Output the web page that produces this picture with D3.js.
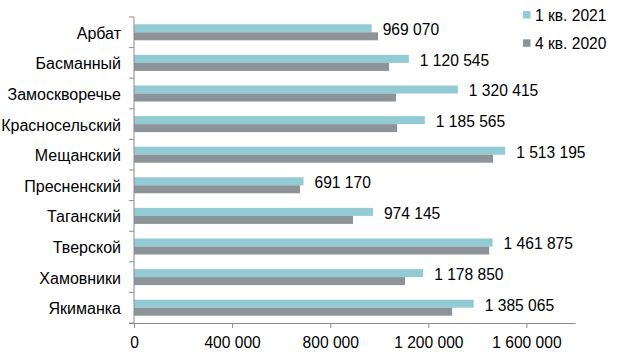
<!DOCTYPE html>
<html>
<head>
<meta charset="utf-8">
<script src="https://cdn.jsdelivr.net/npm/d3@7"></script>
<style>
  body { margin: 0; background: #fff; }
  svg { font-family: 'Liberation Sans', Arial, sans-serif; }
</style>
</head>
<body>
<div id="chart"></div>
<script>
/* Data */
const districts = ['Арбат', 'Басманный', 'Замоскворечье', 'Красносельский', 'Мещанский',
  'Пресненский', 'Таганский', 'Тверской', 'Хамовники', 'Якиманка'];
const seriesNames = ['1 кв. 2021', '4 кв. 2020'];
const q1_2021 = [969070, 1120545, 1320415, 1185565, 1513195, 691170, 974145, 1461875, 1178850, 1385065];
const q4_2020 = [995000, 1040000, 1068000, 1073000, 1464000, 677000, 893000, 1448000, 1105000, 1297000];
const xTicks = [0, 400000, 800000, 1200000, 1600000];

const COLORS = ['#92cbd3', '#8c9399'];
const AXIS_COLOR = '#8c8c8c';
const FONT_SIZE = 15.6;

const width = 622;
const height = 357;
const plot = { left: 134, right: 575.5, top: 17, bottom: 323 };

const svg = d3.select('#chart')
  .append('svg')
  .attr('width', width)
  .attr('height', height);

const x = d3.scaleLinear()
  .domain([0, 1800000])
  .range([plot.left, plot.right]);

const y = d3.scaleBand()
  .domain(districts)
  .range([plot.top, plot.bottom]);

const ySub = d3.scaleBand()
  .domain(seriesNames)
  .range([0, y.bandwidth()])
  .paddingInner(0)
  .paddingOuter(0.91);

const fmt = v => d3.format(',')(v).replace(/,/g, ' ');

const rows = districts.map((name, i) => ({ name, values: [q1_2021[i], q4_2020[i]] }));

// bars
const groups = svg.append('g')
  .selectAll('g')
  .data(rows)
  .join('g')
  .attr('transform', d => `translate(0,${y(d.name)})`);

groups.selectAll('rect')
  .data(d => d.values.map((v, j) => ({ key: seriesNames[j], v, j })))
  .join('rect')
  .attr('x', x(0))
  .attr('y', d => ySub(d.key))
  .attr('width', d => x(d.v) - x(0))
  .attr('height', ySub.bandwidth())
  .attr('fill', d => COLORS[d.j]);

// value labels (first series)
groups.append('text')
  .attr('x', d => x(d.values[0]) + 11)
  .attr('y', ySub(seriesNames[0]) + ySub.bandwidth() / 2 + 1.5)
  .attr('dominant-baseline', 'central')
  .attr('font-size', FONT_SIZE)
  .attr('fill', '#000')
  .text(d => fmt(d.values[0]));

// y axis
const yAxis = svg.append('g')
  .attr('transform', `translate(${plot.left},0)`);
yAxis.append('line')
  .attr('x1', 0).attr('x2', 0)
  .attr('y1', plot.top).attr('y2', plot.bottom)
  .attr('stroke', AXIS_COLOR);
yAxis.selectAll('.tick')
  .data(d3.range(districts.length + 1))
  .join('line')
  .attr('x1', -5).attr('x2', 0)
  .attr('y1', i => plot.top + i * y.step())
  .attr('y2', i => plot.top + i * y.step())
  .attr('stroke', AXIS_COLOR);
yAxis.selectAll('text')
  .data(districts)
  .join('text')
  .attr('x', -13)
  .attr('y', d => y(d) + y.bandwidth() / 2 + 1)
  .attr('text-anchor', 'end')
  .attr('dominant-baseline', 'central')
  .attr('font-size', 16)
  .attr('fill', '#000')
  .text(d => d);

// x axis
const xAxis = svg.append('g')
  .attr('transform', `translate(0,${plot.bottom})`)
  .call(d3.axisBottom(x).tickValues(xTicks).tickSize(5).tickSizeOuter(0).tickFormat(fmt));
xAxis.select('.domain').attr('stroke', AXIS_COLOR).attr('d', `M${plot.left - 5},0.5H${plot.right}`);
xAxis.selectAll('.tick line').attr('stroke', AXIS_COLOR);
xAxis.selectAll('.tick text')
  .attr('font-size', FONT_SIZE)
  .attr('font-family', "'Liberation Sans', Arial, sans-serif")
  .attr('fill', '#000')
  .attr('dy', null)
  .attr('y', 19)
  .attr('dominant-baseline', 'central');

// legend
const legend = svg.append('g')
  .attr('transform', 'translate(523,11)');
const items = legend.selectAll('g')
  .data(seriesNames)
  .join('g')
  .attr('transform', (d, i) => `translate(0,${i * 28.3})`);
items.append('rect')
  .attr('width', 7.5)
  .attr('height', 7.5)
  .attr('fill', (d, i) => COLORS[i]);
items.append('text')
  .attr('x', 12)
  .attr('y', 4)
  .attr('dominant-baseline', 'central')
  .attr('font-size', FONT_SIZE)
  .attr('fill', '#000')
  .text(d => d);
</script>
</body>
</html>
